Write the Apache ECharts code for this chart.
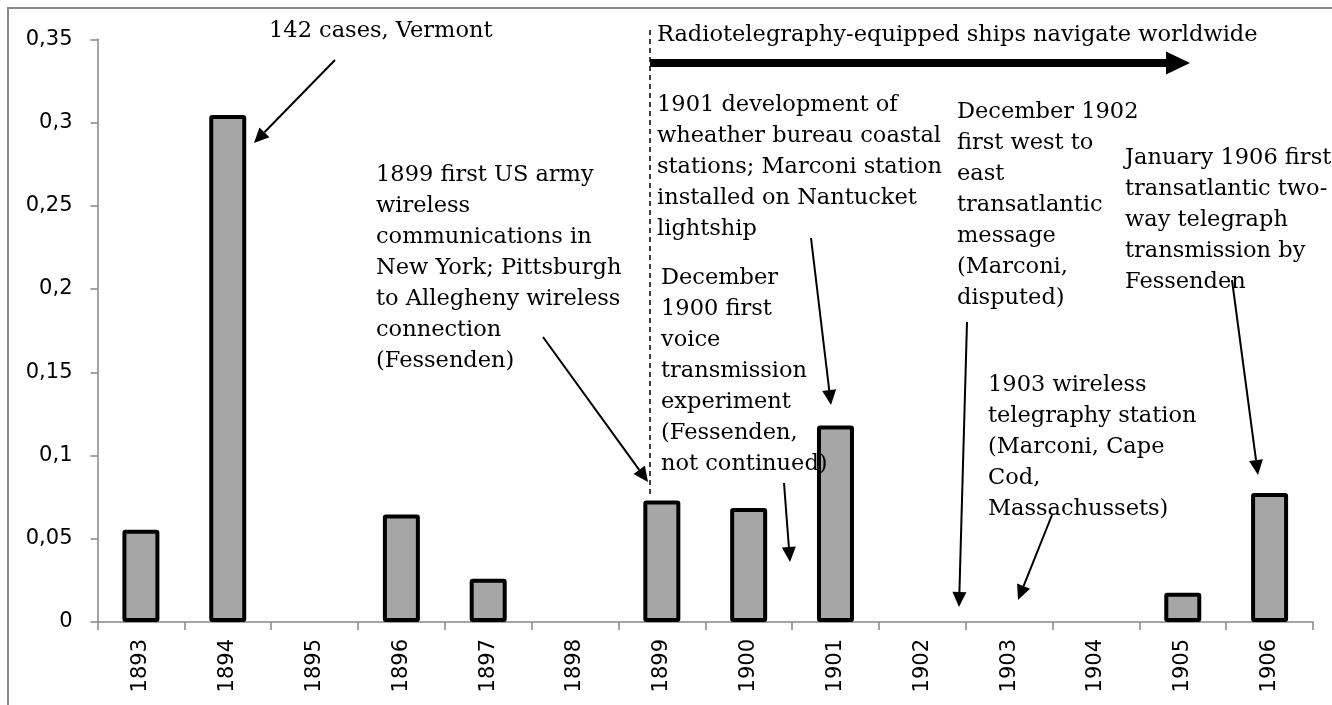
<!DOCTYPE html>
<html>
<head>
<meta charset="utf-8">
<script src="https://cdn.jsdelivr.net/npm/echarts@6/dist/echarts.min.js"></script>
<style>
html, body { margin: 0; padding: 0; background: #fff; }
#chart { width: 1332px; height: 705px; }
</style>
</head>
<body>
<div id="chart"></div>
<script>
// data
const years = ['1893', '1894', '1895', '1896', '1897', '1898', '1899', '1900', '1901', '1902', '1903', '1904', '1905', '1906'];
const rates = [0.0554, 0.3045, 0, 0.0645, 0.026, 0, 0.073, 0.0684, 0.118, 0, 0, 0, 0.0176, 0.0775];
const yMin = 0, yMax = 0.35, yStep = 0.05;

// annotation texts (x = left edge, y = centre of first line, in px)
const notes = [
  { x: 269, y: 31, text: '142 cases, Vermont' },
  { x: 657, y: 35, text: 'Radiotelegraphy-equipped ships navigate worldwide' },
  { x: 376, y: 175, text: '1899 first US army\nwireless\ncommunications in\nNew York; Pittsburgh\nto Allegheny wireless\nconnection\n(Fessenden)' },
  { x: 657, y: 105, text: '1901 development of\nwheather bureau coastal\nstations; Marconi station\ninstalled on Nantucket\nlightship' },
  { x: 661, y: 278, text: 'December\n1900 first\nvoice\ntransmission\nexperiment\n(Fessenden,\nnot continued)' },
  { x: 957, y: 112, text: 'December 1902\nfirst west to\neast\ntransatlantic\nmessage\n(Marconi,\ndisputed)' },
  { x: 1125, y: 158, text: 'January 1906 first\ntransatlantic two-\nway telegraph\ntransmission by\nFessenden' },
  { x: 988, y: 385, text: '1903 wireless\ntelegraphy station\n(Marconi, Cape\nCod,\nMassachussets)' }
];

// pointer arrows [x1, y1, x2(tip), y2(tip)]
const pointers = [
  [335, 60, 254, 143],
  [543, 337, 648, 482],
  [811, 238, 831, 405],
  [784, 483, 790, 562],
  [967, 322, 959, 607],
  [1052, 515, 1018, 600],
  [1232, 280, 1258, 475]
];

function arrow(x1, y1, x2, y2, w, head, half) {
  const a = Math.atan2(y2 - y1, x2 - x1);
  const bx = x2 - head * Math.cos(a), by = y2 - head * Math.sin(a);
  const px = -Math.sin(a) * half, py = Math.cos(a) * half;
  return [
    { type: 'line', z: 10, shape: { x1: x1, y1: y1, x2: bx, y2: by }, style: { stroke: '#000', lineWidth: w } },
    { type: 'polygon', z: 10, shape: { points: [[x2, y2], [bx + px, by + py], [bx - px, by - py]] }, style: { fill: '#000' } }
  ];
}

let graphics = [
  // outer frame
  { type: 'rect', z: 1, shape: { x: 8, y: 8, width: 1340, height: 720 }, style: { fill: 'none', stroke: '#8a8a8a', lineWidth: 2 } },
  // dashed start line of the ships period
  { type: 'line', z: 10, shape: { x1: 650, y1: 30, x2: 650, y2: 494 }, style: { stroke: '#000', lineWidth: 1.5, lineDash: [5, 4] } }
];
graphics = graphics.concat(arrow(650, 63, 1190, 63, 8, 24, 11.5));
pointers.forEach(p => { graphics = graphics.concat(arrow(p[0], p[1], p[2], p[3], 2, 15, 7)); });
notes.forEach(n => {
  graphics.push({
    type: 'text', z: 11, x: n.x, y: n.y - 15.5,
    style: { text: n.text, fontFamily: 'DejaVu Serif', fontSize: 22.5, fill: '#000', lineHeight: 31, verticalAlign: 'top' }
  });
});

const chart = echarts.init(document.getElementById('chart'));
chart.setOption({
  animation: false,
  backgroundColor: '#fff',
  grid: { left: 97.5, right: 19, top: 39.3, bottom: 83, outerBoundsMode: 'none' },
  xAxis: {
    type: 'category',
    data: years,
    axisLine: { lineStyle: { color: '#868686', width: 1.5 } },
    axisTick: { show: true, interval: 0, length: 8, lineStyle: { color: '#868686', width: 1.5 } },
    axisLabel: { interval: 0, rotate: 90, margin: 17, color: '#000', fontFamily: 'DejaVu Sans', fontSize: 21 },
    splitLine: { show: false }
  },
  yAxis: {
    type: 'value',
    min: yMin, max: yMax, interval: yStep,
    axisLine: { show: true, lineStyle: { color: '#868686', width: 1.5 } },
    axisTick: { show: true, length: 7, lineStyle: { color: '#868686', width: 1.5 } },
    axisLabel: {
      margin: 25, color: '#000', fontFamily: 'DejaVu Sans', fontSize: 21,
      formatter: v => String(Math.round(v * 100) / 100).replace('.', ',')
    },
    splitLine: { show: false }
  },
  series: [{
    type: 'bar',
    barWidth: 37,
    data: rates.map(v => v === 0 ? { value: v, itemStyle: { borderWidth: 0 } } : v),
    itemStyle: { color: '#a6a6a6', borderColor: '#000', borderWidth: 4, borderRadius: 1 }
  }],
  graphic: graphics
});
</script>
</body>
</html>
